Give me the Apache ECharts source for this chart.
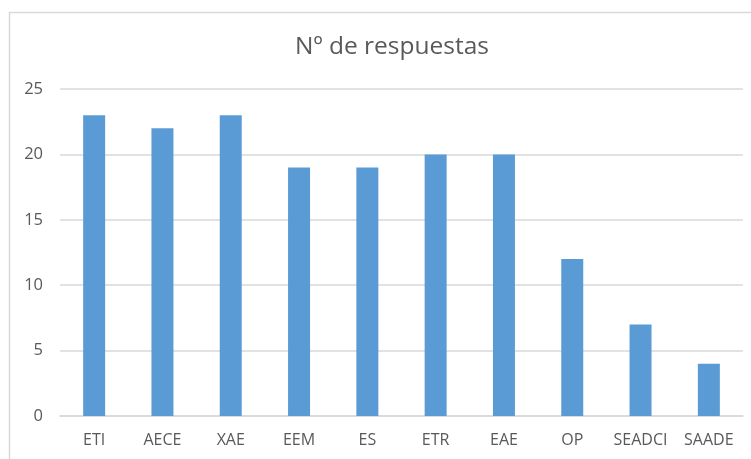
<!DOCTYPE html>
<html>
<head>
<meta charset="utf-8">
<script src="https://cdn.jsdelivr.net/npm/echarts@6/dist/echarts.min.js"></script>
<style>html,body{margin:0;padding:0;background:#fff}#c{width:751px;height:459px}</style>
</head>
<body>
<div id="c"></div>
<script>
const titleText = 'Nº de respuestas';
const categories = ['ETI','AECE','XAE','EEM','ES','ETR','EAE','OP','SEADCI','SAADE'];
const values = [23,22,23,19,19,20,20,12,7,4];
const yTicks = {min:0, max:25, interval:5};

const chart = echarts.init(document.getElementById('c'), null, {renderer:'canvas'});
chart.setOption({
  animation:false,
  backgroundColor:'#fff',
  graphic:[{type:'rect', shape:{x:9.5,y:12.5,width:800,height:500}, style:{fill:'none',stroke:'#d9d9d9',lineWidth:1.5}, z:-1}],
  title:{text:titleText, left:387, top:30, textAlign:'center',
    textStyle:{fontFamily:'Open Sans, Liberation Sans, sans-serif', fontSize:24.5, fontWeight:'normal', color:'#595959'}},
  grid:{left:60, right:8, top:89, bottom:43, containLabel:false},
  xAxis:{type:'category', data:categories,
    axisLine:{show:true, lineStyle:{color:'#d9d9d9', width:1.5}},
    axisTick:{show:false},
    axisLabel:{color:'#595959', fontSize:16, margin:16, fontFamily:'Open Sans, Liberation Sans, sans-serif', interval:0}},
  yAxis:{type:'value', min:yTicks.min, max:yTicks.max, interval:yTicks.interval,
    axisLine:{show:false}, axisTick:{show:false},
    splitLine:{lineStyle:{color:'#d9d9d9', width:1.5}},
    axisLabel:{color:'#595959', fontSize:16.5, margin:17, fontFamily:'Open Sans, Liberation Sans, sans-serif'}},
  series:[{type:'bar', data:values, barWidth:22, itemStyle:{color:'#5B9BD5'}}]
});
</script>
</body>
</html>
